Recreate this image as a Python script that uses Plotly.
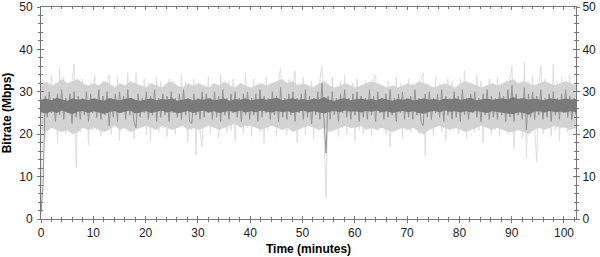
import plotly.graph_objects as go

duration_min = 102.3

# per-minute envelope of the dense core of each series (Mbps), t = 0..102 min
light_hi = [
    31.5, 32.5, 31.5, 32, 33, 32, 32.5, 33, 32, 31.5,
    32, 31.5, 32.5, 32, 31, 32, 31.5, 32.5, 32, 31.5,
    31, 32, 31.5, 31, 32, 32.5, 31.5, 31, 32, 31.5,
    32, 31.5, 31, 32, 31.5, 32.5, 31.5, 31, 32, 31.5,
    31, 31.5, 32, 31.5, 32, 32.5, 33, 32, 32.5, 31.5,
    32, 31.5, 31, 32, 32.5, 31.5, 31, 31.5, 32, 31.5,
    31, 31.5, 32, 32.5, 32, 31.5, 31, 31.5, 31, 31.5,
    32, 31.5, 32.5, 32, 31.5, 31, 31.5, 32, 31.5, 31,
    32, 32.5, 32, 31.5, 31, 31.5, 32, 31.5, 32, 32.5,
    33, 32, 32.5, 32, 31.5, 32, 32.5, 32, 31.5, 32,
    32.5, 32, 31.5,
]
light_lo = [
    21, 20.5, 21.5, 21, 20.5, 21, 20, 20.5, 21.5, 21,
    21.5, 21, 20.5, 21, 22, 21, 21.5, 20.5, 21, 21.5,
    22, 21.5, 21, 22, 21.5, 21, 21.5, 22, 21, 21.5,
    21, 21.5, 22, 21.5, 21, 21.5, 22, 22.5, 21.5, 22,
    22, 21.5, 21, 21.5, 22, 21.5, 21, 21.5, 20.5, 21,
    21.5, 22, 21.5, 21, 21.5, 20.5, 21, 21.5, 22, 21.5,
    21.5, 22, 21, 21.5, 21, 21.5, 21, 20.5, 21, 21.5,
    21, 21.5, 20.5, 20, 21, 21.5, 22, 21.5, 21, 21.5,
    21, 20.5, 21, 21.5, 22, 21.5, 21, 21.5, 21, 20.5,
    20.5, 21, 20.5, 20, 21, 21.5, 21, 21.5, 22, 21.5,
    21.5, 21, 21.5,
]
dark_hi = [
    28.1, 28.4, 28.0, 28.6, 28.2, 27.9, 28.5, 28.1, 28.3, 28.0,
    28.4, 28.1, 27.9, 28.5, 28.2, 28.0, 28.3, 28.6, 28.1, 27.9,
    28.2, 28.4, 28.0, 28.3, 28.1, 28.5, 27.9, 28.2, 28.4, 28.0,
    28.3, 28.1, 28.5, 28.0, 28.2, 28.4, 27.9, 28.3, 28.1, 28.5,
    28.0, 28.2, 28.4, 28.1, 28.3, 28.6, 28.0, 28.2, 28.5, 28.1,
    28.3, 28.0, 28.4, 28.2, 28.8, 28.1, 27.9, 28.3, 28.5, 28.0,
    28.2, 28.4, 28.1, 28.3, 28.0, 28.5, 28.2, 27.9, 28.3, 28.1,
    28.4, 28.0, 28.2, 28.5, 28.1, 28.3, 28.0, 28.4, 28.2, 28.5,
    28.1, 28.3, 28.6, 28.0, 28.2, 28.4, 28.1, 28.3, 28.5, 28.2,
    28.8, 28.3, 28.5, 28.1, 28.4, 28.2, 28.0, 28.5, 28.3, 28.1,
    28.4, 28.2, 28.3,
]
dark_lo = [
    25.2, 24.9, 25.4, 25.0, 25.6, 25.1, 24.7, 25.3, 25.5, 25.0,
    25.4, 25.1, 24.8, 25.2, 25.5, 25.0, 25.3, 25.6, 24.9, 25.2,
    25.4, 25.0, 25.3, 25.6, 25.1, 25.4, 24.9, 25.2, 25.5, 25.0,
    25.3, 25.6, 25.1, 25.4, 25.0, 25.3, 25.5, 25.2, 25.6, 25.1,
    25.4, 25.2, 25.6, 25.3, 25.1, 25.5, 25.2, 25.4, 25.0, 25.3,
    25.6, 25.2, 25.4, 25.1, 24.9, 25.3, 25.5, 25.2, 25.6, 25.3,
    25.4, 25.1, 25.5, 25.3, 25.6, 25.2, 25.4, 25.0, 25.3, 25.5,
    25.2, 25.4, 25.0, 24.8, 25.3, 25.5, 25.2, 25.6, 25.3, 25.4,
    25.1, 25.4, 25.2, 25.5, 25.3, 25.0, 25.4, 25.2, 25.1, 24.9,
    24.7, 25.2, 25.0, 24.6, 25.3, 25.4, 25.1, 25.5, 25.2, 25.3,
    25.1, 25.4, 25.2,
]

# individual sample peaks reaching beyond the cores
light_peaks = [
    2, 33, 19, 31.5, 21, 34, 22.5, 32, 18, 35.7, 21.5, 33.5, 20, 31, 22, 32.5, 36.5, 12.1, 31, 20.5,
    33, 22, 31.5, 17.5, 32, 21, 34, 23, 31, 19.5, 32.5, 21.5, 33, 34, 20, 31.5, 22.5, 33.5, 18.5, 32,
    31, 21, 34.5, 22, 32, 19, 34.5, 21.5, 31.5, 23, 33, 20, 32, 18.5, 31, 22, 33.5, 20.5, 32.5, 21.5,
    31.5, 19.5, 33, 22.5, 32, 20, 31, 21.5, 34, 22, 32.5, 18, 31.5, 21, 33, 15, 32, 20.5, 17, 31,
    22, 33.5, 20, 32, 21.5, 31, 19, 34, 22.5, 31.5, 20.5, 32.5, 21, 33, 18.5, 31.5, 22, 32, 20, 34.5,
    21.5, 31, 19.5, 33, 22, 32, 20.5, 31.5, 18, 33.5, 21, 32, 22.5, 31, 19.5, 32.5, 35.5, 21, 31.5, 20,
    33, 22, 31.5, 35, 18, 32, 21.5, 33.5, 20, 31, 22.5, 32.5, 19, 31.5, 21, 33, 36, 20.5, 5, 32,
    21, 33.5, 22, 31, 19.5, 32.5, 21.5, 34, 20, 31.5, 22.5, 32, 18.5, 33, 21, 31.5, 20, 32.5, 22, 31,
    19.5, 33, 34, 21, 32, 22.5, 31.5, 20, 32.5, 17, 31, 21.5, 33.5, 22, 32, 19, 31.5, 21, 33, 20.5,
    32, 22, 31.5, 20, 33, 34.5, 15, 32, 21.5, 31, 19.5, 33.5, 22, 32, 20.5, 31.5, 18.5, 33, 21, 32.5,
    22.5, 31, 20, 33, 21.5, 35, 19, 32, 22, 31.5, 20.5, 34, 21, 32.5, 18, 31, 22.5, 33, 20, 32,
    21, 33.5, 19.5, 31.5, 22, 32.5, 20, 33, 36, 16.5, 32, 21.5, 31, 19, 37, 14.5, 32.5, 20.5, 34, 21,
    13.5, 32, 36, 20, 33, 22, 31.5, 19.5, 36.5, 21, 32.5, 18.5, 33.5, 22, 31, 20.5, 34, 21.5, 32, 20,
]
dark_peaks = [
    1.5, 8, 29, 24, 30, 25, 28.5, 23, 29.5, 24.5, 30.5, 23.5, 28.5, 25, 29.5, 22.5, 30, 24, 29, 23.5,
    28.5, 24.5, 30, 23, 29.5, 25, 28.5, 24, 30.5, 23.5, 29, 24.5, 30, 22, 28.5, 24, 29.5, 23, 30, 25,
    29, 23.5, 30.5, 24.5, 28.5, 23, 21.5, 29.5, 24, 28.5, 25, 30, 23.5, 29, 24.5, 30.5, 23, 28.5, 24, 29.5,
    24.5, 29, 23, 30, 25, 28.5, 24, 29.5, 23.5, 30.5, 24.5, 28.5, 23, 22.5, 29.5, 24.5, 28.5, 23.5, 30, 24,
    29.5, 25, 28.5, 23.5, 30, 24, 29, 23, 30.5, 24.5, 28.5, 23.5, 29.5, 25, 30, 24, 28.5, 23, 29.5, 24.5,
    30, 23.5, 28.5, 24.5, 29.5, 23, 30.5, 24, 29, 25, 28.5, 23.5, 30, 24.5, 29, 23, 31, 24, 28.5, 23.5,
    29.5, 24.5, 30, 23, 28.5, 25, 29.5, 23.5, 30.5, 24, 29, 22.5, 28.5, 24.5, 30, 23.5, 32, 24, 15.5, 29,
    23.5, 30, 24.5, 28.5, 23, 29.5, 25, 30.5, 24, 28.5, 23.5, 29.5, 24.5, 30, 23, 29, 24, 28.5, 23.5, 30.5,
    24.5, 29, 23, 30, 25, 28.5, 23.5, 29.5, 24, 30.5, 24.5, 28.5, 23, 29.5, 25, 30, 23.5, 28.5, 24, 29,
    23.5, 30.5, 24.5, 28.5, 23, 22, 29.5, 24, 30, 23.5, 28.5, 25, 29.5, 24, 30.5, 23, 29, 24.5, 28.5, 23.5,
    30, 24, 29, 23, 30.5, 24.5, 28.5, 23.5, 29.5, 25, 30, 24, 28.5, 23, 29.5, 24.5, 30.5, 23.5, 29, 24,
    28.5, 23.5, 30, 24.5, 29, 23, 30.5, 24, 31.5, 23, 29.5, 24.5, 28.5, 23.5, 31, 21, 29.5, 24, 30, 23.5,
    29, 24.5, 30.5, 23.5, 28.5, 24, 29.5, 23, 30, 24.5, 28.5, 23.5, 29.5, 25, 30.5, 24, 29, 23.5, 28.5, 24.5,
]

x_ticks = [0, 10, 20, 30, 40, 50, 60, 70, 80, 90, 100]
y_ticks = [0, 10, 20, 30, 40, 50]


def times(values):
    n = len(values)
    return [i * duration_min / (n - 1) for i in range(n)]


def band(hi, lo, color):
    t = times(hi)
    return go.Scatter(x=t + t[::-1], y=hi + lo[::-1], mode="lines", fill="toself",
                      fillcolor=color, line=dict(width=0), hoverinfo="skip", showlegend=False)


fig = go.Figure()
fig.add_trace(go.Scatter(x=times(light_peaks), y=light_peaks, mode="lines",
                         line=dict(color="#dedede", width=1), showlegend=False))
fig.add_trace(band(light_hi, light_lo, "#d3d3d3"))
fig.add_trace(go.Scatter(x=times(dark_peaks), y=dark_peaks, mode="lines",
                         line=dict(color="#939393", width=1), showlegend=False))
fig.add_trace(band(dark_hi, dark_lo, "#7a7a7a"))
# empty traces so the mirrored / crossing tick axes are drawn
fig.add_trace(go.Scatter(x=[None], y=[None], xaxis="x2", yaxis="y2", showlegend=False))
fig.add_trace(go.Scatter(x=[None], y=[None], xaxis="x3", yaxis="y3", showlegend=False))
fig.add_trace(go.Scatter(x=[None], y=[None], xaxis="x3", yaxis="y4", showlegend=False))

tickfont = dict(family="Liberation Sans, Arial", size=12, color="#222")
titlefont = dict(family="Liberation Sans, Arial", size=12, color="#000")
axis_common = dict(showgrid=False, zeroline=False, linecolor="#777", linewidth=1,
                   tickcolor="#777", ticklen=3, tickfont=tickfont, automargin=False)
minor_out = dict(dtick=2, ticks="outside", ticklen=2, tickcolor="#777")
minor_in = dict(dtick=2, ticks="inside", ticklen=2, tickcolor="#777")
xr = [0, duration_min]
yr = [0, 50]

fig.update_layout(
    width=600, height=257,
    margin=dict(l=41, r=24, t=7, b=38),
    paper_bgcolor="white", plot_bgcolor="white",
    xaxis=dict(range=xr, tickvals=x_ticks, ticks="outside",
               showline=True, mirror=True, minor=minor_out,
               title=dict(text="<b>Time (minutes)</b>", standoff=5, font=titlefont),
               **axis_common),
    yaxis=dict(range=yr, tickvals=y_ticks, ticks="outside",
               showline=True, mirror=True, minor=minor_out, ticklabelstandoff=2,
               title=dict(text="<b>Bitrate (Mbps)</b>", standoff=6, font=titlefont),
               **axis_common),
    xaxis2=dict(range=xr, overlaying="x", side="top", tickvals=x_ticks,
                ticks="inside", showticklabels=False, showline=False, minor=minor_in,
                **axis_common),
    yaxis2=dict(range=yr, overlaying="y", side="right", tickvals=y_ticks,
                ticks="outside", showline=False, minor=minor_out,
                **axis_common),
    xaxis3=dict(range=xr, overlaying="x", side="bottom", tickvals=x_ticks,
                ticks="inside", showticklabels=False, showline=False, minor=minor_in,
                **axis_common),
    yaxis3=dict(range=yr, overlaying="y", side="left", tickvals=y_ticks,
                ticks="inside", showticklabels=False, showline=False, minor=minor_in,
                **axis_common),
    yaxis4=dict(range=yr, overlaying="y", side="right", tickvals=y_ticks,
                ticks="inside", showticklabels=False, showline=False, minor=minor_in,
                **axis_common),
)

fig.write_html("out.html")
